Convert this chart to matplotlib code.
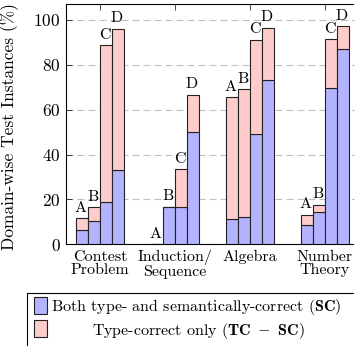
import numpy as np
import matplotlib as mpl
mpl.use("Agg")
import matplotlib.pyplot as plt
from matplotlib.patches import Rectangle

categories = ["Contest\nProblem", "Induction/\nSequence", "Algebra", "Number\nTheory"]
models = ["A", "B", "C", "D"]
# per domain, per model (A..D)
sc = [[6.4, 10.3, 19.0, 33.0],
      [0.0, 16.8, 16.8, 50.0],
      [11.1, 12.3, 49.0, 73.4],
      [8.7, 14.5, 69.5, 86.9]]
tc = [[11.6, 16.5, 88.7, 96.1],
      [0.0, 16.8, 33.4, 66.6],
      [65.5, 69.1, 91.1, 96.4],
      [13.1, 17.5, 91.4, 97.1]]

sc = np.array(sc)
tc = np.array(tc)

plt.rcParams['font.family'] = 'serif'
plt.rcParams['font.serif'] = ['cmr10']
plt.rcParams['mathtext.fontset'] = 'cm'
plt.rcParams['axes.unicode_minus'] = False
plt.rcParams['axes.formatter.use_mathtext'] = True

W, H = 354, 346
fig = plt.figure(figsize=(W/100, H/100), dpi=100)
ax = fig.add_axes([66/W, 1-244.3/H, 293/W, 240.3/H])

blue = '#b3b3ff'
pink = '#ffcccc'
bw = 0.16
x = np.arange(len(categories))
for j, m in enumerate(models):
    xs = x + (j-1.5)*bw
    ax.bar(xs, sc[:, j], bw, color=blue, edgecolor='#222222', linewidth=0.8, zorder=3)
    ax.bar(xs, tc[:, j]-sc[:, j], bw, bottom=sc[:, j], color=pink, edgecolor='#222222', linewidth=0.8, zorder=3)
    for xi, top in zip(xs, tc[:, j]):
        ax.annotate(m, (xi, top), xytext=(-1, 7.5), textcoords='offset points',
                    ha='center', va='center', fontsize=11.5)

ax.set_xlim(-0.453, 3.453)
ax.set_ylim(0, 107.1)
ax.set_yticks([0, 20, 40, 60, 80, 100])
ax.set_xticks(x)
ax.set_xticklabels(categories, fontsize=11.5, linespacing=0.95)
ax.tick_params(axis='both', direction='in', top=True, right=True, length=4, width=0.5, labelsize=12.5)
ax.tick_params(axis='x', pad=4, labelsize=11.5)
ax.tick_params(axis='y', pad=4)
ax.yaxis.grid(True, linestyle=(0, (6.3, 3.6)), color='#c0c0c0', linewidth=0.8, zorder=0)
ax.set_axisbelow(True)
for s in ax.spines.values():
    s.set_linewidth(0.8)
ax.set_ylabel('Domain-wise Test Instances (%)', fontsize=12.5)
ax.yaxis.set_label_coords(-0.160, 0.49)

# legend drawn by hand (second entry centred as in the source)
def fx(px):
    return px / W
def fy(py):
    return 1 - py / H

fig.patches.append(Rectangle((fx(27), fy(360)), fx(340), 67.5/H, transform=fig.transFigure,
                             facecolor='white', edgecolor='black', linewidth=0.8))
fig.patches.append(Rectangle((fx(33.5), fy(314)), fx(13), 17/H, transform=fig.transFigure,
                             facecolor=blue, edgecolor='#222222', linewidth=0.8))
fig.patches.append(Rectangle((fx(33.5), fy(337)), fx(13), 17/H, transform=fig.transFigure,
                             facecolor=pink, edgecolor='#222222', linewidth=0.8))
fig.text(fx(51), fy(307), r'Both type- and semantically-correct ($\mathbf{SC}$)',
         ha='left', va='center', fontsize=11.5)
fig.text(fx(198), fy(331), r'Type-correct only ($\mathbf{TC}\ -\ \mathbf{SC}$)',
         ha='center', va='center', fontsize=11.5)

fig.savefig('out.png', dpi=100)
